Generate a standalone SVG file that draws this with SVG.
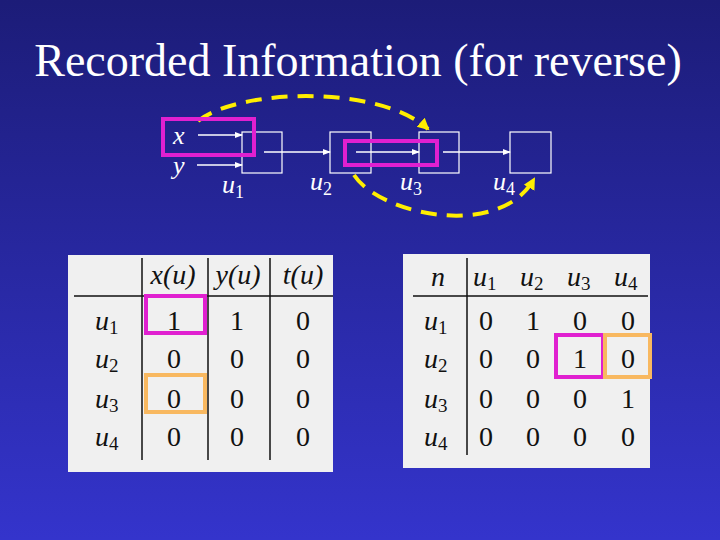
<svg xmlns="http://www.w3.org/2000/svg" width="720" height="540" viewBox="0 0 720 540">
<defs>
<linearGradient id="bg" x1="0" y1="0" x2="0" y2="1"><stop offset="0" stop-color="#1c1c78"/><stop offset="1" stop-color="#3434cc"/></linearGradient>
<marker id="wa" markerWidth="8" markerHeight="8" refX="7" refY="4" orient="auto" markerUnits="userSpaceOnUse"><path d="M0,1 L8,4 L0,7 z" fill="#fff"/></marker>
<marker id="ya" markerWidth="14" markerHeight="14" refX="10" refY="7" orient="auto" markerUnits="userSpaceOnUse"><path d="M0,1 L12,7 L0,13 z" fill="#ffee00"/></marker>
<style>
.t{font-family:"Liberation Serif",serif;fill:#fff}
.i{font-style:italic}
.c{font-family:"Liberation Serif",serif;font-size:28px;fill:#111;text-anchor:middle}
.n{fill:none;stroke:#fff;stroke-width:1.2}
.w{stroke:#fff;stroke-width:1.5;marker-end:url(#wa)}
.y{fill:none;stroke:#ffee00;stroke-width:4;stroke-dasharray:16 10}
.l{stroke:#111;stroke-width:1.5}
.m{fill:none;stroke:#e020d0;stroke-width:4}
.o{fill:none;stroke:#f8b860;stroke-width:4}
</style>
</defs>
<rect width="720" height="540" fill="url(#bg)"/>
<text class="t" x="358" y="76" font-size="46" text-anchor="middle">Recorded Information (for reverse)</text>
<g id="u1"><rect class="n" x="242" y="132" width="40" height="41"/><text class="t i" x="222" y="193" font-size="26">u<tspan font-style="normal" font-size="18" dy="5">1</tspan></text></g>
<g id="u2"><rect class="n" x="330" y="132" width="41" height="41"/><text class="t i" x="310" y="190" font-size="26">u<tspan font-style="normal" font-size="18" dy="5">2</tspan></text></g>
<g id="u3"><rect class="n" x="419" y="132" width="40" height="41"/><text class="t i" x="400" y="190" font-size="26">u<tspan font-style="normal" font-size="18" dy="5">3</tspan></text></g>
<g id="u4"><rect class="n" x="510" y="132" width="41" height="41"/><text class="t i" x="493" y="190" font-size="26">u<tspan font-style="normal" font-size="18" dy="5">4</tspan></text></g>
<g id="vars"><text class="t i" x="173" y="144" font-size="26">x</text><text class="t i" x="173" y="174" font-size="26">y</text></g>
<g id="connectors">
<line class="w" x1="198" y1="135" x2="242" y2="135"/>
<line class="w" x1="197" y1="165" x2="242" y2="165"/>
<line class="w" x1="264" y1="152" x2="330" y2="152"/>
<line class="w" x1="356" y1="152" x2="419" y2="152"/>
<line class="w" x1="443" y1="152" x2="510" y2="152"/>
<path class="y" d="M198,121 C240,88 380,85 428,129" marker-end="url(#ya)"/>
<path class="y" d="M354,175 C380,215 500,240 534,179" marker-end="url(#ya)"/>
</g>
<rect class="m" x="163" y="119" width="91" height="36"/>
<rect class="m" x="345" y="141" width="92" height="24"/>
<g id="table1">
<rect x="68" y="255" width="265" height="217" fill="#f0f0f0"/>
<line class="l" x1="74" y1="296" x2="333" y2="296"/>
<line class="l" x1="142" y1="258" x2="142" y2="460"/>
<line class="l" x1="208" y1="258" x2="208" y2="460"/>
<line class="l" x1="270" y1="258" x2="270" y2="460"/>
<g class="c"><text class="i" x="173" y="284">x(u)</text><text class="i" x="238" y="284">y(u)</text><text class="i" x="303" y="284">t(u)</text>
<text x="174" y="330">1</text><text x="237" y="330">1</text><text x="303" y="330">0</text>
<text x="174" y="368">0</text><text x="237" y="368">0</text><text x="303" y="368">0</text>
<text x="174" y="408">0</text><text x="237" y="408">0</text><text x="303" y="408">0</text>
<text x="174" y="446">0</text><text x="237" y="446">0</text><text x="303" y="446">0</text></g>
<g class="c" text-anchor="start" style="text-anchor:start"><text class="i" x="95" y="330">u<tspan font-style="normal" font-size="19" dy="4">1</tspan></text><text class="i" x="95" y="368">u<tspan font-style="normal" font-size="19" dy="4">2</tspan></text><text class="i" x="95" y="408">u<tspan font-style="normal" font-size="19" dy="4">3</tspan></text><text class="i" x="95" y="446">u<tspan font-style="normal" font-size="19" dy="4">4</tspan></text></g>
<rect class="m" x="146" y="296" width="59" height="37"/>
<rect class="o" x="146" y="375" width="59" height="37"/>
</g>
<g id="table2">
<rect x="403" y="254" width="247" height="214" fill="#f0f0f0"/>
<line class="l" x1="413" y1="296" x2="648" y2="296"/>
<line class="l" x1="467" y1="258" x2="467" y2="455"/>
<g class="c"><text class="i" x="438" y="286">n</text>
<text x="486" y="330">0</text><text x="533" y="330">1</text><text x="580" y="330">0</text><text x="628" y="330">0</text>
<text x="486" y="368">0</text><text x="533" y="368">0</text><text x="580" y="368">1</text><text x="628" y="368">0</text>
<text x="486" y="408">0</text><text x="533" y="408">0</text><text x="580" y="408">0</text><text x="628" y="408">1</text>
<text x="486" y="446">0</text><text x="533" y="446">0</text><text x="580" y="446">0</text><text x="628" y="446">0</text></g>
<g class="c" style="text-anchor:start"><text class="i" x="473" y="286">u<tspan font-style="normal" font-size="19" dy="4">1</tspan></text><text class="i" x="520" y="286">u<tspan font-style="normal" font-size="19" dy="4">2</tspan></text><text class="i" x="567" y="286">u<tspan font-style="normal" font-size="19" dy="4">3</tspan></text><text class="i" x="614" y="286">u<tspan font-style="normal" font-size="19" dy="4">4</tspan></text>
<text class="i" x="424" y="330">u<tspan font-style="normal" font-size="19" dy="4">1</tspan></text><text class="i" x="424" y="368">u<tspan font-style="normal" font-size="19" dy="4">2</tspan></text><text class="i" x="424" y="408">u<tspan font-style="normal" font-size="19" dy="4">3</tspan></text><text class="i" x="424" y="446">u<tspan font-style="normal" font-size="19" dy="4">4</tspan></text></g>
<rect class="m" x="556" y="335" width="47" height="42"/>
<rect class="o" x="605" y="335" width="45" height="42"/>
</g>
</svg>
